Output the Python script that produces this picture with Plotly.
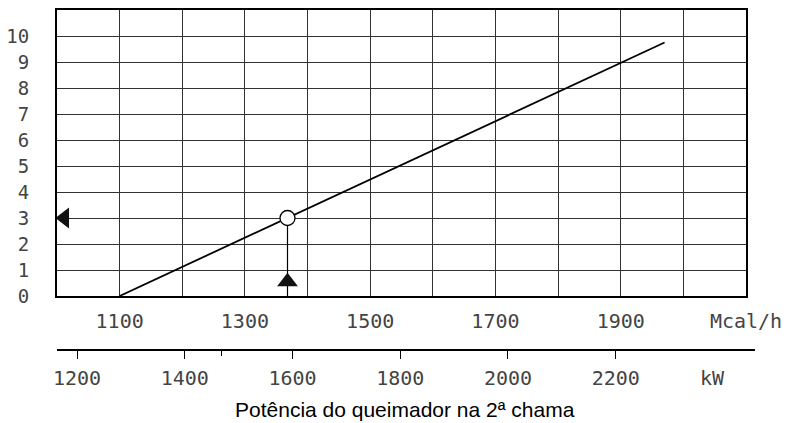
import plotly.graph_objects as go

# Data
line_mcal = [1100, 1970]          # Mcal/h
line_val = [0, 9.75]              # y values
point_mcal = [1368]
point_val = [3]
marker_left_mcal = [1012]
marker_up_val = [0.55]
mcal_tickvals = [1100, 1300, 1500, 1700, 1900, 2100]
mcal_ticktext = ["1100", "1300", "1500", "1700", "1900", "Mcal/h"]
kw_tickvals = [1200, 1400, 1600, 1800, 2000, 2200]
kw_ticktext = ["1200", "1400", "1600", "1800", "2000", "2200"]
y_tickvals = list(range(0, 11))
MCAL_PER_KW = 0.86
x_range = [1000, 2100]

tickfont = dict(family="DejaVu Sans Mono", size=20, color="#444")
ytickfont = dict(family="DejaVu Sans Mono", size=19, color="#444")

fig = go.Figure()
fig.add_trace(go.Scatter(x=line_mcal, y=line_val, mode="lines",
                         line=dict(color="black", width=1.8), showlegend=False, hoverinfo="skip"))
# drop line
fig.add_trace(go.Scatter(x=[point_mcal[0], point_mcal[0]], y=[point_val[0], 0], mode="lines",
                         line=dict(color="black", width=1.2), showlegend=False, hoverinfo="skip"))
fig.add_trace(go.Scatter(x=point_mcal, y=point_val, mode="markers",
                         marker=dict(symbol="circle", size=15, color="white",
                                     line=dict(color="black", width=1.3)),
                         showlegend=False, hoverinfo="skip"))
fig.add_trace(go.Scatter(x=point_mcal, y=marker_up_val, mode="markers",
                         marker=dict(symbol="triangle-up", size=18, color="#111"),
                         showlegend=False, hoverinfo="skip"))
fig.add_trace(go.Scatter(x=marker_left_mcal, y=point_val, mode="markers",
                         marker=dict(symbol="triangle-left", size=18, color="#111"),
                         showlegend=False, hoverinfo="skip"))
# invisible trace on kW axis
fig.add_trace(go.Scatter(x=[x_range[0] / MCAL_PER_KW, x_range[1] / MCAL_PER_KW], y=[0, 0],
                         xaxis="x2", mode="markers", marker=dict(opacity=0),
                         showlegend=False, hoverinfo="skip"))

W, H = 792, 423
H_PLOT_TOP = 10
H_BOTTOM = 296
H_KW = 350
L = 57
R = 792 - 746
paper_h = H - H_PLOT_TOP - (H - H_KW)
paper_w = W - L - R
dom_bottom = (H_KW - H_BOTTOM) / paper_h

fig.update_layout(
    width=W, height=H,
    margin=dict(l=L, r=R, t=H_PLOT_TOP, b=H - H_KW, autoexpand=False),
    plot_bgcolor="white", paper_bgcolor="white",
    xaxis=dict(range=x_range, tickvals=mcal_tickvals, ticktext=mcal_ticktext,
               showgrid=True, gridcolor="#333", gridwidth=1,
               minor=dict(dtick=100, tick0=1000, showgrid=True, gridcolor="#333", gridwidth=1),
               showline=True, mirror=True, linecolor="black", linewidth=2,
               ticks="", tickfont=tickfont, ticklabelstandoff=6, zeroline=False,
               automargin=False),
    yaxis=dict(range=[0, 11], tickvals=y_tickvals, domain=[dom_bottom, 1],
               showgrid=True, gridcolor="#333", gridwidth=1,
               showline=True, mirror=True, linecolor="black", linewidth=2,
               ticks="", tickfont=ytickfont, ticklabelstandoff=22, zeroline=False,
               automargin=False),
    xaxis2=dict(overlaying="x", anchor="free", position=0, side="bottom",
                range=[x_range[0] / MCAL_PER_KW, x_range[1] / MCAL_PER_KW],
                tickvals=kw_tickvals, ticktext=kw_ticktext,
                ticks="outside", ticklen=8, tickcolor="black", tickwidth=1,
                minor=dict(tick0=1468, dtick=100000, ticks="outside", ticklen=5,
                           tickcolor="black"),
                showline=False, showgrid=False, zeroline=False,
                tickfont=tickfont, ticklabelstandoff=2, automargin=False),
    shapes=[dict(type="line", xref="paper", yref="paper", x0=0, x1=1.013, y0=0, y1=0,
                 line=dict(color="black", width=2))],
    annotations=[
        dict(text="kW", xref="paper", yref="paper", x=(712.5 - L) / paper_w,
             y=-(377.5 - H_KW) / paper_h,
             xanchor="center", yanchor="middle", showarrow=False, font=tickfont),
        dict(text="Potência do queimador na 2ª chama", xref="paper", yref="paper",
             x=(405 - L) / paper_w, y=-(409 - H_KW) / paper_h,
             xanchor="center", yanchor="middle", showarrow=False,
             font=dict(family="Liberation Sans", size=21, color="black")),
    ],
)
fig.write_html("out.html", config={"displayModeBar": False},
               post_script="document.body.style.margin='0';document.body.style.overflow='hidden';")
